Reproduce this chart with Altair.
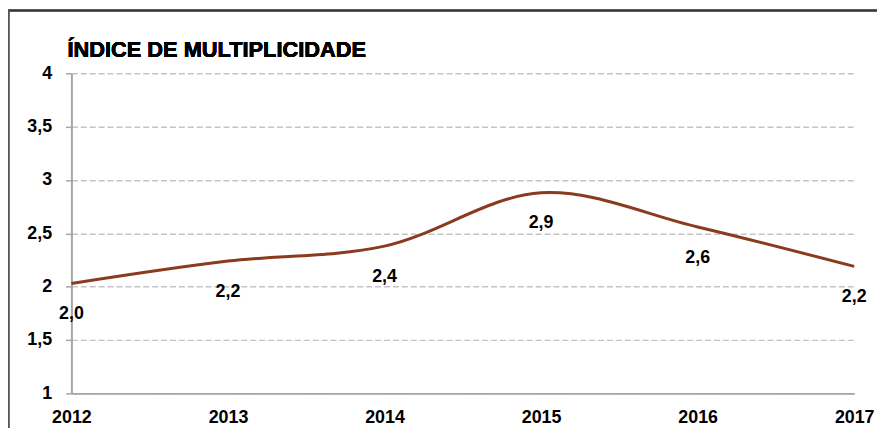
import altair as alt
import pandas as pd

years = [2012, 2013, 2014, 2015, 2016, 2017]
values = [2.03, 2.24, 2.38, 2.88, 2.56, 2.19]
y_ticks = [1, 1.5, 2, 2.5, 3, 3.5, 4]
title_text = "ÍNDICE DE MULTIPLICIDADE"

df = pd.DataFrame({"year": years, "value": values})

LABEL_FONT = "Liberation Sans, Arial, sans-serif"
AXIS_GREY = "#a6a6a6"

x_enc = alt.X(
    "year:Q",
    scale=alt.Scale(domain=[years[0], years[-1]], nice=False, zero=False),
    axis=alt.Axis(
        values=years, format="d", title=None, ticks=False, grid=False,
        labelPadding=15, labelFlush=False, labelOverlap=False,
        domainColor=AXIS_GREY, domainWidth=2,
        labelFont=LABEL_FONT, labelFontSize=18, labelFontWeight="bold",
        labelColor="#000000",
    ),
)
y_enc = alt.Y(
    "value:Q",
    scale=alt.Scale(domain=[y_ticks[0], y_ticks[-1]], nice=False, zero=False),
    axis=alt.Axis(
        values=y_ticks, title=None,
        labelExpr="replace(toString(datum.value), '.', ',')",
        grid=True, gridDash=[6, 3], gridColor="#c4c4c4", gridWidth=1.5,
        tickSize=6, tickColor=AXIS_GREY, tickWidth=1.5,
        domainColor=AXIS_GREY, domainWidth=2, labelPadding=14,
        labelFont=LABEL_FONT, labelFontSize=18, labelFontWeight="bold",
        labelColor="#000000",
    ),
)

base = alt.Chart(df)

line = base.mark_line(interpolate="catmull-rom", color="#8a3b1d", strokeWidth=3).encode(
    x=x_enc, y=y_enc
)

labels = base.transform_calculate(
    lab="replace(format(datum.value, '.1f'), '.', ',')"
).mark_text(
    dy=31, font=LABEL_FONT, fontSize=18, fontWeight="bold", color="#000000"
).encode(x="year:Q", y="value:Q", text="lab:N")

title = base.mark_text(
    align="left", baseline="alphabetic", font=LABEL_FONT, fontSize=22,
    fontWeight="bold", color="#000000"
).encode(x=alt.value(-4), y=alt.value(-16), text=alt.value(title_text))

top_rule = base.mark_rule(color="#3a3a3a", strokeWidth=1.5).encode(
    x=alt.value(-64), x2=alt.value(830), y=alt.value(-63.5)
)
left_rule = base.mark_rule(color="#555555", strokeWidth=1.5).encode(
    x=alt.value(-63.5), y=alt.value(-64), y2=alt.value(360)
)

chart = alt.layer(top_rule, left_rule, line, labels, title).properties(
    width=790, height=323,
    padding={"left": 64, "top": 64, "right": 23, "bottom": 33},
    autosize=alt.AutoSizeParams(type="none"),
).configure_view(stroke=None)

chart.save("out.html", embed_options={"renderer": "svg", "actions": False})
